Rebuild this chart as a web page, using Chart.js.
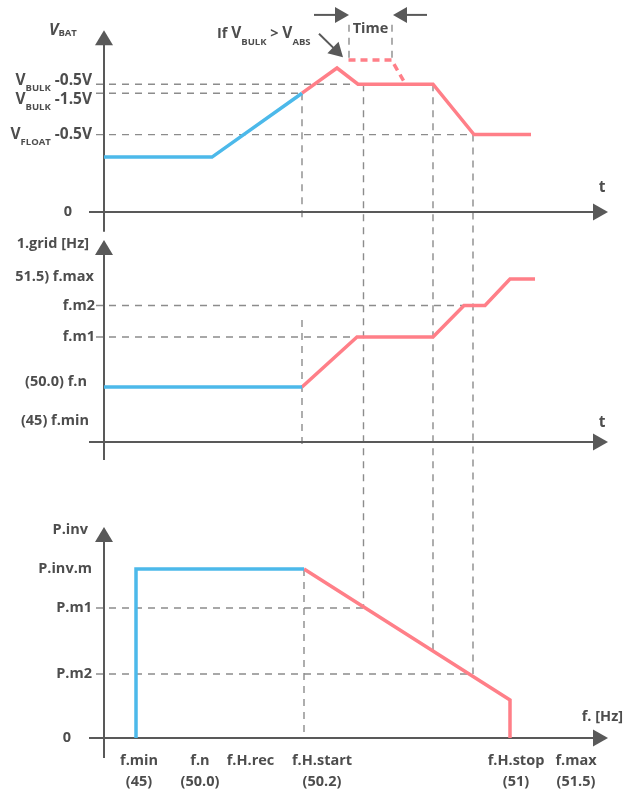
<!DOCTYPE html>
<html>
<head>
<meta charset="utf-8">
<script src="https://cdn.jsdelivr.net/npm/chart.js@4.4.0/dist/chart.umd.min.js"></script>
<style>
  html, body { margin: 0; padding: 0; background: #ffffff; }
  #wrap { position: relative; width: 635px; height: 791px; }
</style>
</head>
<body>
<div id="wrap"><canvas id="c" width="635" height="791"></canvas></div>
<script>
// ---- Battery voltage over time (V, time in arbitrary units) ----
const vbatBlueT = [0, 21.6, 39.6];
const vbatBlue  = [6.1, 6.1, 13.2];
const vbatRedT  = [39.6, 46.6, 50.8, 65.8, 74.0, 85.4];
const vbatRed   = [13.2, 16.0, 14.2, 14.2, 8.6, 8.6];
const vAbsT     = [48.9, 57.5, 59.9];          // absorption hold when V_BULK > V_ABS
const vAbs      = [16.9, 16.9, 14.6];

// ---- Grid frequency set by the inverter (relative level) ----
const fBlueT = [0, 39.6];
const fBlue  = [5.5, 5.5];
const fRedT  = [39.6, 50.6, 65.8, 72.0, 76.2, 81.2, 86.2];
const fRed   = [5.5, 10.5, 10.5, 13.65, 13.65, 16.3, 16.3];

// ---- Inverter power vs frequency (% of P.inv.m) ----
const pBlueX = [6.4, 6.4, 40.0];
const pBlue  = [0, 100, 100];
const pRedX  = [40.0, 81.2, 81.2];
const pRed   = [100, 22.5, 0];

// ---- Tick labels ----
const vTickValues = [14.2, 13.2, 8.6];
const vTickLabels = [['V', 'BULK', ' -0.5V'], ['V', 'BULK', ' -1.5V'], ['V', 'FLOAT', ' -0.5V']];
const fTickValues = [16.55, 13.65, 10.5, 5.5, 2.1];
const fTickLabels = ['51.5) f.max', 'f.m2', 'f.m1', '(50.0) f.n', '(45) f.min'];
const pTickValues = [100, 76.9, 37.9, 0];
const pTickLabels = ['P.inv.m', 'P.m1', 'P.m2', '0'];
const freqNames   = ['f.min', 'f.n', 'f.H.rec', 'f.H.start', 'f.H.stop', 'f.max'];
const freqHz      = ['(45)', '(50.0)', '', '(50.2)', '(51)', '(51.5)'];
const freqLabelAt = [7.0, 19.2, 29.3, 43.6, 82.4, 94.4];

// ---- Dashed reference lines: x pair, y pair, y-axis of each end ----
const guides = [
  { x: [-1.6, 50.8], y: [14.2, 14.2], ax: ['yV', 'yV'] },
  { x: [-1.6, 39.6], y: [13.2, 13.2], ax: ['yV', 'yV'] },
  { x: [-1.6, 74.0], y: [8.6, 8.6],   ax: ['yV', 'yV'] },
  { x: [39.6, 39.6], y: [13.2, -0.6], ax: ['yV', 'yV'] },
  { x: [51.9, 51.9], y: [14.2, 76.9], ax: ['yV', 'yP'] },
  { x: [65.8, 65.8], y: [14.2, 51.6], ax: ['yV', 'yP'] },
  { x: [73.8, 73.8], y: [8.6, 37.9],  ax: ['yV', 'yP'] },
  { x: [49.0, 49.0], y: [20.8, 17.1], ax: ['yV', 'yV'] },
  { x: [57.6, 57.6], y: [20.8, 17.1], ax: ['yV', 'yV'] },
  { x: [-1.6, 72.0], y: [13.65, 13.65], ax: ['yF', 'yF'] },
  { x: [-1.6, 50.6], y: [10.5, 10.5], ax: ['yF', 'yF'] },
  { x: [39.6, 39.6], y: [12.2, -0.5], ax: ['yF', 'yF'] },
  { x: [-1.6, 51.9], y: [76.9, 76.9], ax: ['yP', 'yP'] },
  { x: [-1.6, 73.8], y: [37.9, 37.9], ax: ['yP', 'yP'] },
  { x: [40.0, 40.0], y: [100, 0],     ax: ['yP', 'yP'] }
];

// ---- Layout ----
const W = 635, H = 791;
const PLOT_LEFT = 104, PLOT_RIGHT = 609, PX_PER_T = 5;
function band(zeroPx, pxPerUnit) {
  return { min: -(H - zeroPx) / pxPerUnit, max: zeroPx / pxPerUnit };
}
const bandV = band(212, 9);
const bandF = band(442, 10);
const bandP = band(738, 1.69);

const BLUE = '#4cb9ea';
const RED = '#ff7f88';
const AXIS = '#595959';
const GUIDE = '#8c8c8c';
const TEXT = '#4d4d4d';
const FONT = '"Open Sans", "DejaVu Sans", sans-serif';
const fMain = 'bold 14.5px ' + FONT;
const fBig = 'bold 15.5px ' + FONT;
const fSub = 'bold 9.5px ' + FONT;

const pts = (xs, ys) => xs.map((x, i) => ({ x: x, y: ys[i] }));

function rich(ctx, parts, x, y, align) {
  let w = 0;
  parts.forEach(p => { ctx.font = p.f; w += ctx.measureText(p.t).width; });
  let cx = align === 'right' ? x - w : (align === 'center' ? x - w / 2 : x);
  ctx.textAlign = 'left';
  ctx.textBaseline = 'middle';
  parts.forEach(p => {
    ctx.font = p.f;
    ctx.fillText(p.t, cx, y + (p.dy || 0));
    cx += ctx.measureText(p.t).width;
  });
}

function arrowHead(ctx, tx, ty, angle, len, half) {
  ctx.save();
  ctx.translate(tx, ty);
  ctx.rotate(angle);
  ctx.beginPath();
  ctx.moveTo(0, 0);
  ctx.lineTo(-len, -half);
  ctx.lineTo(-len, half);
  ctx.closePath();
  ctx.fill();
  ctx.restore();
}

function arrow(ctx, x0, y0, x1, y1, len, half) {
  const a = Math.atan2(y1 - y0, x1 - x0);
  ctx.beginPath();
  ctx.moveTo(x0, y0);
  ctx.lineTo(x1 - Math.cos(a) * len * 0.8, y1 - Math.sin(a) * len * 0.8);
  ctx.stroke();
  arrowHead(ctx, x1, y1, a, len, half);
}

const axesPanels = [
  { ax: 'yV', top: 20.2, bottom: -2.2 },
  { ax: 'yF', top: 20.2, bottom: -1.8 },
  { ax: 'yP', top: 124.9, bottom: -11.8 }
];

const diagram = {
  id: 'diagram',
  beforeDatasetsDraw(chart) {
    const { ctx, scales } = chart;
    const X = v => scales.x.getPixelForValue(v);

    // dashed guides
    ctx.save();
    ctx.strokeStyle = GUIDE;
    ctx.lineWidth = 1.4;
    ctx.setLineDash([7, 6]);
    guides.forEach(g => {
      ctx.beginPath();
      ctx.moveTo(X(g.x[0]), scales[g.ax[0]].getPixelForValue(g.y[0]));
      ctx.lineTo(X(g.x[1]), scales[g.ax[1]].getPixelForValue(g.y[1]));
      ctx.stroke();
    });
    ctx.restore();

    // axes with arrow heads
    ctx.save();
    ctx.strokeStyle = AXIS;
    ctx.fillStyle = AXIS;
    ctx.lineWidth = 2;
    axesPanels.forEach(p => {
      const s = scales[p.ax];
      const x0 = X(0), y0 = s.getPixelForValue(0);
      const yTop = s.getPixelForValue(p.top);
      ctx.beginPath();
      ctx.moveTo(x0, s.getPixelForValue(p.bottom));
      ctx.lineTo(x0, yTop + 12);
      ctx.stroke();
      arrowHead(ctx, x0, yTop, -Math.PI / 2, 15, 9);
      const xEnd = X(100.8);
      ctx.beginPath();
      ctx.moveTo(X(-3), y0);
      ctx.lineTo(xEnd - 12, y0);
      ctx.stroke();
      arrowHead(ctx, xEnd, y0, 0, 15, 8.5);
    });
    ctx.restore();
  },
  afterDraw(chart) {
    const { ctx, scales } = chart;
    const X = v => scales.x.getPixelForValue(v);
    const yV = v => scales.yV.getPixelForValue(v);
    const yF = v => scales.yF.getPixelForValue(v);
    const yP = v => scales.yP.getPixelForValue(v);
    ctx.save();
    ctx.fillStyle = TEXT;

    // --- battery voltage panel ---
    rich(ctx, [{ t: 'V', f: 'italic bold 16px ' + FONT }, { t: 'BAT', f: fSub, dy: 3 }], 49, yV(20.2), 'left');
    const vShift = [-4, 6, 0];
    vTickValues.forEach((v, i) => {
      const l = vTickLabels[i];
      rich(ctx, [{ t: l[0], f: fBig }, { t: l[1], f: fSub, dy: 8 }, { t: l[2], f: fBig }],
        X(-2.4), yV(v) + vShift[i], 'right');
    });
    ctx.font = fMain; ctx.textAlign = 'right'; ctx.textBaseline = 'middle';
    ctx.fillText('0', X(-6.4), yV(0));
    ctx.textAlign = 'center';
    ctx.font = fBig;
    ctx.fillText('t', X(99.6), yV(2.7));
    ctx.font = fMain;
    ctx.fillText('Time', X(53.3), yV(20.4));
    rich(ctx, [{ t: 'If ', f: fMain }, { t: 'V', f: fBig }, { t: 'BULK', f: fSub, dy: 8 },
      { t: ' > ', f: fMain }, { t: 'V', f: fBig }, { t: 'ABS', f: fSub, dy: 8 }], 217, yV(19.8), 'left');

    // annotation arrows
    ctx.strokeStyle = AXIS; ctx.fillStyle = AXIS; ctx.lineWidth = 2;
    arrow(ctx, X(42.0), yV(21.9), X(49.0), yV(21.9), 14, 8);
    arrow(ctx, X(64.6), yV(21.9), X(57.8), yV(21.9), 14, 8);
    arrow(ctx, X(43.0), yV(19.8), X(47.8), yV(17.2), 14, 8);
    ctx.fillStyle = TEXT;

    // --- grid frequency panel ---
    ctx.font = fMain; ctx.textBaseline = 'middle'; ctx.textAlign = 'right';
    ctx.fillText('1.grid [Hz]', X(-3.0), yF(19.8));
    const fRight = [-2.0, -1.8, -1.8, -3.4, -3.0];
    const fShift = [0, 0, 0, -5, 0];
    fTickValues.forEach((v, i) => ctx.fillText(fTickLabels[i], X(fRight[i]), yF(v) + fShift[i]));
    ctx.textAlign = 'center';
    ctx.font = fBig;
    ctx.fillText('t', X(99.6), yF(1.9));
    ctx.font = fMain;

    // --- power vs frequency panel ---
    ctx.textAlign = 'right';
    ctx.fillText('P.inv', X(-3.2), yP(123));
    pTickValues.forEach((v, i) => ctx.fillText(pTickLabels[i], i === 3 ? X(-6.6) : X(-2.4), yP(v)));
    ctx.textAlign = 'center';
    freqNames.forEach((n, i) => {
      ctx.fillText(n, X(freqLabelAt[i]), yP(-13.6));
      if (freqHz[i]) ctx.fillText(freqHz[i], X(freqLabelAt[i]), yP(-26));
    });
    ctx.textAlign = 'right';
    ctx.fillText('f. [Hz]', X(103.8), yP(12.4));
    ctx.restore();
  }
};

const line = (data, color, yAxisID, dash) => ({
  data: data,
  yAxisID: yAxisID,
  borderColor: color,
  borderWidth: 3.5,
  borderDash: dash || [],
  borderJoinStyle: 'miter',
  pointRadius: 0,
  fill: false,
  tension: 0,
  clip: false
});

new Chart(document.getElementById('c'), {
  type: 'line',
  data: {
    datasets: [
      line(pts(vbatBlueT, vbatBlue), BLUE, 'yV'),
      line(pts(vbatRedT, vbatRed), RED, 'yV'),
      line(pts(vAbsT, vAbs), RED, 'yV', [7, 5]),
      line(pts(fBlueT, fBlue), BLUE, 'yF'),
      line(pts(fRedT, fRed), RED, 'yF'),
      line(pts(pBlueX, pBlue), BLUE, 'yP'),
      line(pts(pRedX, pRed), RED, 'yP')
    ]
  },
  options: {
    responsive: false,
    animation: false,
    events: [],
    layout: { padding: { left: PLOT_LEFT, right: W - PLOT_RIGHT, top: 0, bottom: 0 } },
    plugins: { legend: { display: false }, tooltip: { enabled: false }, title: { display: false } },
    scales: {
      x: { type: 'linear', display: false, min: 0, max: (PLOT_RIGHT - PLOT_LEFT) / PX_PER_T },
      yV: { type: 'linear', display: false, min: bandV.min, max: bandV.max },
      yF: { type: 'linear', display: false, min: bandF.min, max: bandF.max },
      yP: { type: 'linear', display: false, min: bandP.min, max: bandP.max }
    }
  },
  plugins: [diagram]
});
</script>
</body>
</html>
